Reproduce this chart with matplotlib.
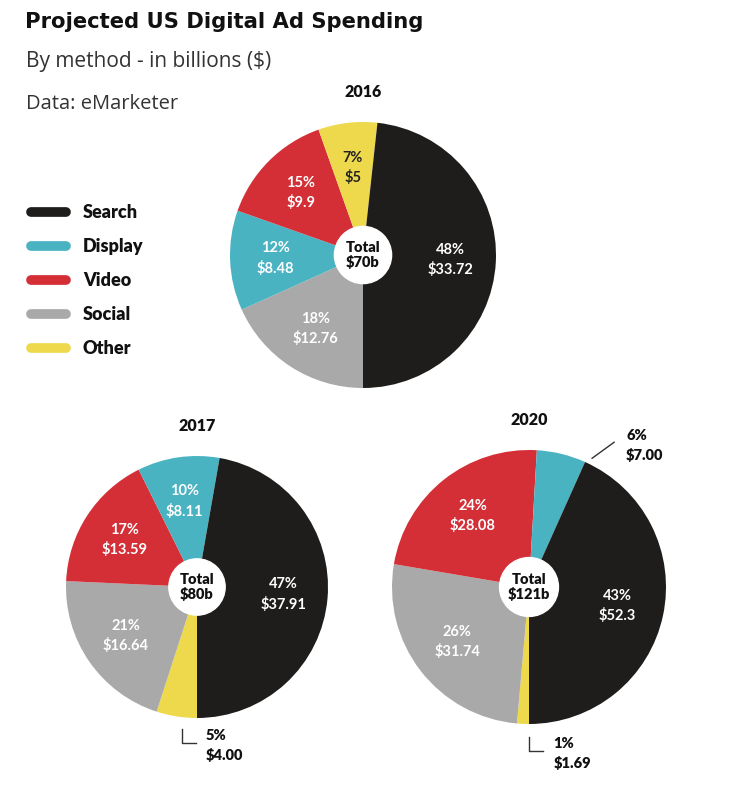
import matplotlib
matplotlib.use("Agg")
import matplotlib.pyplot as plt
from matplotlib.patches import Circle
import numpy as np

plt.rcParams['font.family'] = ['Lato', 'DejaVu Sans']

# Legend order and colours
methods = ['Search', 'Display', 'Video', 'Social', 'Other']
method_colors = {'Search': '#1f1d1b', 'Display': '#4ab3c2', 'Video': '#d42f37',
                 'Social': '#a9a9a9', 'Other': '#eed94c'}

years = ['2016', '2017', '2020']
totals = ['Total\n$70b', 'Total\n$80b', 'Total\n$121b']

# slices listed clockwise starting at 6 o'clock
order_2016 = ['Social', 'Display', 'Video', 'Other', 'Search']
values_2016 = [12.76, 8.48, 9.9, 5, 33.72]
pct_2016 = ['18%', '12%', '15%', '7%', '48%']
money_2016 = ['$12.76', '$8.48', '$9.9', '$5', '$33.72']

order_2017 = ['Other', 'Social', 'Video', 'Display', 'Search']
values_2017 = [4.00, 16.64, 13.59, 8.11, 37.91]
pct_2017 = ['5%', '21%', '17%', '10%', '47%']
money_2017 = ['$4.00', '$16.64', '$13.59', '$8.11', '$37.91']

order_2020 = ['Other', 'Social', 'Video', 'Display', 'Search']
values_2020 = [1.69, 31.74, 28.08, 7.00, 52.3]
pct_2020 = ['1%', '26%', '24%', '6%', '43%']
money_2020 = ['$1.69', '$31.74', '$28.08', '$7.00', '$52.3']

W, H = 735, 797
fig = plt.figure(figsize=(W / 100, H / 100), dpi=100)
ax = fig.add_axes([0, 0, 1, 1])

def py(y):
    return H - y

pies = [
    (order_2016, values_2016, pct_2016, money_2016, (363, 255), 133, {}),
    (order_2017, values_2017, pct_2017, money_2017, (197, 587), 131, {'Other': 'down'}),
    (order_2020, values_2020, pct_2020, money_2020, (529, 587), 137, {'Other': 'down', 'Display': 'diag'}),
]

for i, (order, vals, pcts, money, (cx, cy), r, outside) in enumerate(pies):
    cy_d = py(cy)
    wedges, _ = ax.pie(vals, colors=[method_colors[m] for m in order],
                       startangle=-90, counterclock=False, center=(cx, cy_d),
                       radius=r, wedgeprops=dict(linewidth=0))
    ax.add_patch(Circle((cx, cy_d), 0.215 * r, color='white', zorder=3))
    ax.text(cx, cy_d, totals[i], ha='center', va='center', fontsize=10.5,
            fontweight='heavy', color='#111111', linespacing=1.15, zorder=4)
    ax.text(cx, cy_d + r + 30, years[i], ha='center', va='center',
            fontsize=11.5, fontweight='heavy', color='#111111')
    for w, m, p, s in zip(wedges, order, pcts, money):
        mid = np.deg2rad((w.theta1 + w.theta2) / 2)
        lab = f'{p}\n{s}'
        if m in outside:
            ax_x = cx + 1.08 * r * np.cos(mid)
            ax_y = cy_d + 1.08 * r * np.sin(mid)
            if outside[m] == 'down':
                x0 = ax_x + 7
                ax.plot([x0, x0, x0 + 14], [ax_y - 2, ax_y - 16, ax_y - 16],
                        color='#333333', lw=1)
                ax.text(x0 + 24, ax_y - 2, lab, ha='left', va='top', fontsize=10.5,
                        fontweight='heavy', color='#111111', linespacing=1.5)
            else:
                ax.plot([ax_x + 28, ax_x + 50], [ax_y - 15, ax_y + 1],
                        color='#333333', lw=1)
                ax.text(ax_x + 62, ax_y + 14, lab, ha='left', va='top', fontsize=10.5,
                        fontweight='heavy', color='#111111', linespacing=1.5)
            continue
        d = 0.66
        tc = '#222222' if m == 'Other' else 'white'
        ax.text(cx + d * r * np.cos(mid), cy_d + d * r * np.sin(mid), lab,
                ha='center', va='center', fontsize=10.5, fontweight='bold',
                color=tc, linespacing=1.45, zorder=4)

# legend
leg_y = [212, 246, 280, 314, 348]
for m, y in zip(methods, leg_y):
    ax.plot([31, 66], [py(y), py(y)], color=method_colors[m], lw=7,
            solid_capstyle='round')
    ax.text(83, py(y), m, ha='left', va='center', fontsize=13,
            fontweight='heavy', color='#111111')

# titles
ax.text(25, py(22), 'Projected US Digital Ad Spending', ha='left', va='center',
        fontsize=15.2, fontweight='bold', color='#111111', family='DejaVu Sans')
ax.text(26, py(61), 'By method - in billions ($)', ha='left', va='center',
        fontsize=15, color='#333333', family='Open Sans')
ax.text(26, py(104), 'Data: eMarketer', ha='left', va='center',
        fontsize=14.5, color='#333333', family='Open Sans')

ax.set_xlim(0, W)
ax.set_ylim(0, H)
ax.set_aspect('equal')
ax.axis('off')

fig.savefig('out.png', dpi=100, facecolor='white')
